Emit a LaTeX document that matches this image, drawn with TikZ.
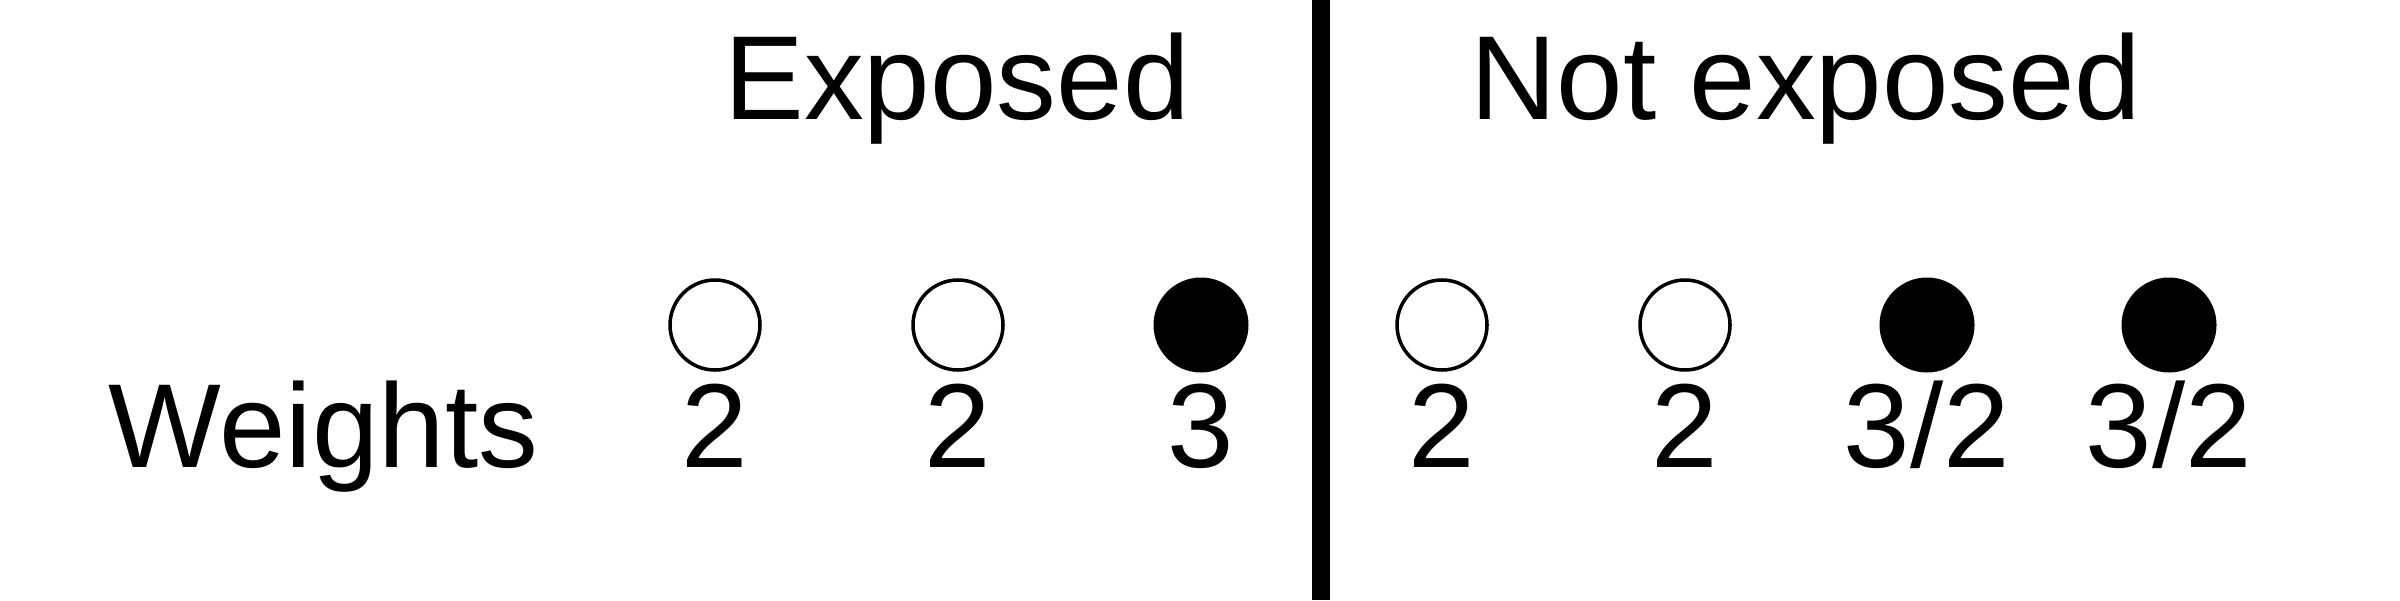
\documentclass[tikz,border=0pt]{standalone}
\usepackage{fontspec}
\setmainfont{Liberation Sans}
\begin{document}
\begin{tikzpicture}

\tikzstyle{opendot}=[circle, draw=black, line width=1pt, fill=white, minimum size=0.9cm, inner sep=0pt]
\tikzstyle{fulldot}=[circle, fill=black, minimum size=0.95cm, inner sep=0pt]
\tikzstyle{bigtext}=[font=\fontsize{34}{40}\selectfont, inner sep=0pt]
\tikzstyle{divider}=[line width=0.18cm, color=black]

%\draw[help lines] (0,0) grid (24,6);
\useasboundingbox (0,0) rectangle (24,6);

% headings
\node[bigtext, anchor=base] (exposed) at (9.57, 4.8) {Exposed};
\node[bigtext, anchor=base] (notexposed) at (18.06, 4.8) {Not exposed};
\node[bigtext, anchor=base west] (weights) at (1.08, 1.33) {Weights};

% dots and their weights
\foreach \x/\s/\w/\n in {7.15/opendot/2/e1, 9.58/opendot/2/e2, 12.01/fulldot/3/e3,
    14.42/opendot/2/n1, 16.85/opendot/2/n2, 19.27/fulldot/3\slash2/n3, 21.69/fulldot/3\slash2/n4} {
    \node[\s] (dot\n) at (\x, 2.75) {};
    \node[bigtext, anchor=base] (w\n) at (\x, 1.33) {\w};
};

% divider
\coordinate (top) at (13.21, 6);
\coordinate (bottom) at (13.21, 0);
\draw[divider] (top) -- (bottom);

\end{tikzpicture}
\end{document}
